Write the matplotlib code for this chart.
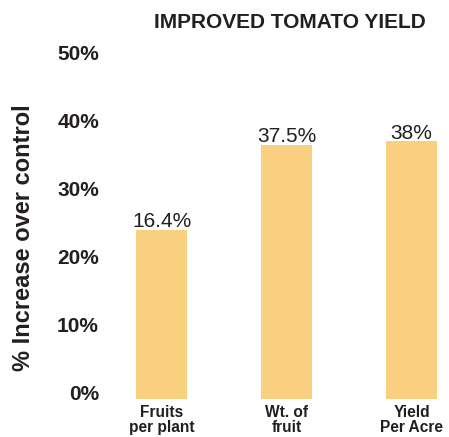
import matplotlib
matplotlib.use("Agg")
import matplotlib.pyplot as plt
from matplotlib.transforms import ScaledTranslation

plt.rcParams['font.family'] = ['Liberation Sans', 'DejaVu Sans']

# data
categories = ["Fruits\nper plant", "Wt. of\nfruit", "Yield\nPer Acre"]
bar_heights = [25, 37.5, 38]
value_labels = ["16.4%", "37.5%", "38%"]
y_ticks = [0, 10, 20, 30, 40, 50]
y_tick_labels = ["0%", "10%", "20%", "30%", "40%", "50%"]

ink = '#231f20'
bar_color = '#f8d07f'

fig = plt.figure(figsize=(4.49, 4.37), dpi=100)
ax = fig.add_axes([110 / 449, 1 - 399 / 437, 330 / 449, 339 / 437])

x = range(len(categories))
bars = ax.bar(x, bar_heights, width=0.41, color=bar_color)

for b, lbl in zip(bars, value_labels):
    ax.annotate(lbl, (b.get_x() + b.get_width() / 2, b.get_height()),
                xytext=(0, 2), textcoords='offset points',
                ha='center', va='baseline', fontsize=15, color=ink)

ax.set_xlim(-0.412, 2.228)
ax.set_ylim(0, 50)
ax.set_xticks(list(x))
ax.set_xticklabels(categories, fontsize=11.2, fontweight='bold', color=ink,
                   linespacing=1.05)
ax.set_yticks(y_ticks)
ax.set_yticklabels(y_tick_labels, fontsize=15, fontweight='bold', color=ink)
ax.tick_params(axis='both', length=0)
ax.tick_params(axis='y', pad=8)
ax.tick_params(axis='x', pad=4)

# tick labels sit a little above their gridline position
shift = ScaledTranslation(0, 7 / 100, fig.dpi_scale_trans)
for t in ax.get_yticklabels():
    t.set_transform(t.get_transform() + shift)

for s in ax.spines.values():
    s.set_visible(False)

fig.text(24 / 449, 1 - 238 / 437, "% Increase over control", rotation=90,
         ha='center', va='center', fontsize=17, fontweight='bold', color=ink)
fig.text(290 / 449, 1 - 22 / 437, "IMPROVED TOMATO YIELD",
         ha='center', va='center', fontsize=15, fontweight='bold', color=ink)

fig.savefig("out.png", dpi=100)
